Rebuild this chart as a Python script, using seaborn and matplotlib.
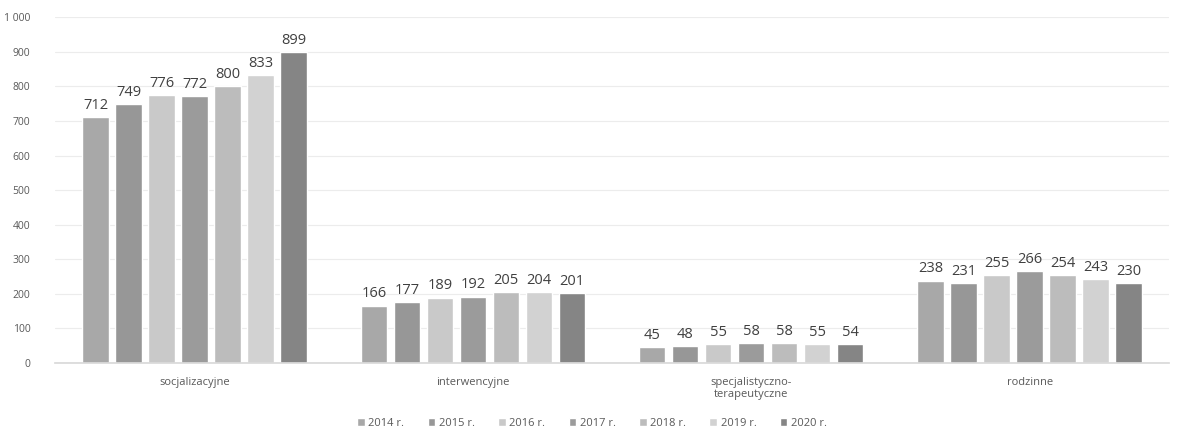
import matplotlib
matplotlib.use("Agg")
import matplotlib.pyplot as plt
import seaborn as sns
import pandas as pd
from matplotlib.ticker import FuncFormatter

categories = ["socjalizacyjne", "interwencyjne", "specjalistyczno-\nterapeutyczne", "rodzinne"]
years = ["2014 r.", "2015 r.", "2016 r.", "2017 r.", "2018 r.", "2019 r.", "2020 r."]
v2014 = [712, 166, 45, 238]
v2015 = [749, 177, 48, 231]
v2016 = [776, 189, 55, 255]
v2017 = [772, 192, 58, 266]
v2018 = [800, 205, 58, 254]
v2019 = [833, 204, 55, 243]
v2020 = [899, 201, 54, 230]
colors = ["#a8a8a8", "#979797", "#c9c9c9", "#9b9b9b", "#bcbcbc", "#d2d2d2", "#858585"]

series = [v2014, v2015, v2016, v2017, v2018, v2019, v2020]
rows = []
for y, vals in zip(years, series):
    for c, v in zip(categories, vals):
        rows.append({"kategoria": c, "rok": y, "wartosc": v})
df = pd.DataFrame(rows)

sns.set_theme(style="white")
plt.rcParams['font.family'] = ['Open Sans', 'DejaVu Sans']

fig = plt.figure(figsize=(11.77, 4.32), dpi=100)
ax = fig.add_axes([0.047, 0.16, 0.946, 0.80])

sns.barplot(data=df, x="kategoria", y="wartosc", hue="rok", order=categories,
            hue_order=years, palette=colors, width=0.83, gap=0.2, ax=ax,
            legend=True, errorbar=None, saturation=1)

for cont in ax.containers:
    ax.bar_label(cont, fmt="%d", padding=3, fontsize=10.5, color="#404040")

ax.set_ylim(0, 1000)
ax.set_xlim(-0.5, 3.5)
ax.set_yticks(range(0, 1001, 100))
ax.yaxis.set_major_formatter(FuncFormatter(lambda v, p: f"{int(v):,}".replace(",", " ")))
ax.grid(axis="y", color="#ececec", linewidth=0.8)
ax.set_axisbelow(True)
for s in ax.spines.values():
    s.set_visible(False)
ax.spines["bottom"].set_visible(True)
ax.spines["bottom"].set_color("#d9d9d9")
ax.tick_params(axis="y", labelsize=7.5, colors="#595959", length=0, pad=18)
ax.tick_params(axis="x", labelsize=8, colors="#595959", length=0, pad=10)
ax.set_xlabel("")
ax.set_ylabel("")

h, l = ax.get_legend_handles_labels()
ax.legend(h, l, loc="center", bbox_to_anchor=(0.482, -0.175), ncol=7, frameon=False,
          fontsize=8, handlelength=0.7, handleheight=0.7, handletextpad=0.3,
          columnspacing=2.1, labelcolor="#595959")

fig.savefig("out.png", dpi=100)
